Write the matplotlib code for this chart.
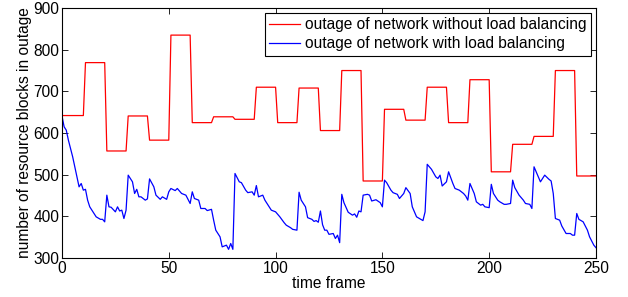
import matplotlib
matplotlib.use("Agg")
import matplotlib.pyplot as plt
import numpy as np

plt.rcParams['font.family'] = ['Liberation Sans', 'DejaVu Sans']
plt.rcParams['font.size'] = 11.2

# red series: one value per block of 10 time frames
red_blocks = [642, 769, 557, 641, 583, 835, 625, 639, 633, 710,
              625, 708, 606, 750, 485, 657, 631, 710, 625, 728,
              507, 573, 592, 750, 497]

# blue series
blue_t = [0, 1, 2, 3, 5, 6, 8, 9, 10, 11, 12, 13, 15, 16, 18, 19, 20,
          21, 22, 23, 25, 26, 27, 28, 29, 30,
          31, 33, 34, 35, 36, 37, 39, 40,
          41, 43, 44, 46, 47, 49, 50,
          51, 53, 54, 56, 58, 60,
          61, 62, 64, 65, 67, 68, 70,
          71, 72, 74, 75, 77, 78, 79, 80,
          81, 83, 84, 86, 87, 89, 90,
          91, 92, 94, 95, 97, 98, 100,
          102, 104, 105, 107, 108, 110,
          111, 112, 114, 115, 117, 118, 119, 120,
          121, 122, 123, 124, 125, 127, 128, 129, 130,
          131, 132, 134, 136, 137, 138, 139, 140,
          141, 143, 144, 145, 147, 149, 150,
          151, 152, 154, 155, 157, 158, 160,
          161, 163, 164, 166, 168, 169, 170,
          171, 173, 175, 176, 177, 178, 180,
          181, 183, 184, 186, 188, 189, 190,
          191, 192, 193, 194, 196, 197, 198, 200,
          201, 202, 204, 205, 207, 208, 210,
          211, 212, 214, 216, 217, 219, 220,
          221, 223, 224, 226, 228, 229, 230,
          231, 233, 234, 236, 238, 239, 240,
          241, 242, 244, 246, 247, 249, 250]
blue_v = [641, 615, 607, 583, 543, 519, 471, 479, 463, 465, 439, 423, 407, 399, 393, 393, 387,
          451, 423, 422, 411, 423, 413, 415, 395, 415,
          499, 483, 455, 465, 447, 447, 439, 442,
          490, 471, 451, 441, 447, 441, 459,
          467, 462, 467, 455, 451, 431,
          459, 443, 439, 419, 419, 414, 417,
          391, 367, 351, 327, 331, 321, 335, 321,
          503, 483, 481, 463, 457, 459, 451,
          474, 447, 451, 439, 423, 415, 411,
          399, 385, 379, 373, 369, 367,
          458, 439, 423, 397, 393, 388, 390, 386,
          413, 380, 367, 367, 357, 359, 347, 355, 337,
          453, 433, 410, 403, 406, 398, 413, 411,
          451, 453, 451, 437, 440, 433, 423,
          487, 481, 463, 457, 453, 443, 455,
          469, 455, 423, 399, 393, 390, 411,
          525, 513, 495, 491, 499, 473, 483,
          507, 479, 467, 463, 455, 449, 439,
          479, 467, 455, 435, 427, 429, 423, 421,
          477, 455, 439, 435, 429, 429, 431,
          487, 469, 451, 439, 431, 429, 419,
          519, 495, 483, 499, 489, 485, 455,
          395, 391, 377, 359, 359, 355, 355,
          407, 393, 387, 367, 351, 331, 325]

t = np.arange(0, 251)
red_v = [red_blocks[max(i - 1, 0) // 10] for i in t]

fig = plt.figure(figsize=(6.28, 2.97), dpi=100)
ax = fig.add_axes([0.0987, 0.131, 0.8503, 0.842])

ax.plot(t, red_v, color='#ff0000', lw=0.9, label='outage of network without load balancing')
ax.plot(blue_t, blue_v, color='#0000ff', lw=0.9, label='outage of network with load balancing')

ax.set_xlim(0, 250)
ax.set_ylim(300, 900)
ax.set_xticks(range(0, 251, 50))
ax.set_yticks(range(300, 901, 100))
ax.tick_params(direction='in', top=True, right=True, length=4, width=0.6, pad=2)
for s in ax.spines.values():
    s.set_linewidth(0.8)

ax.set_xlabel('time frame', labelpad=0)
ax.set_ylabel('number of resource blocks in outage', labelpad=1)

leg = ax.legend(loc='upper right', fancybox=False, framealpha=1, edgecolor='black',
                borderaxespad=0.3, labelspacing=0.25, handlelength=2.0,
                handletextpad=0.3, borderpad=0.3)
leg.get_frame().set_linewidth(0.8)

fig.savefig('out.png', dpi=100)
